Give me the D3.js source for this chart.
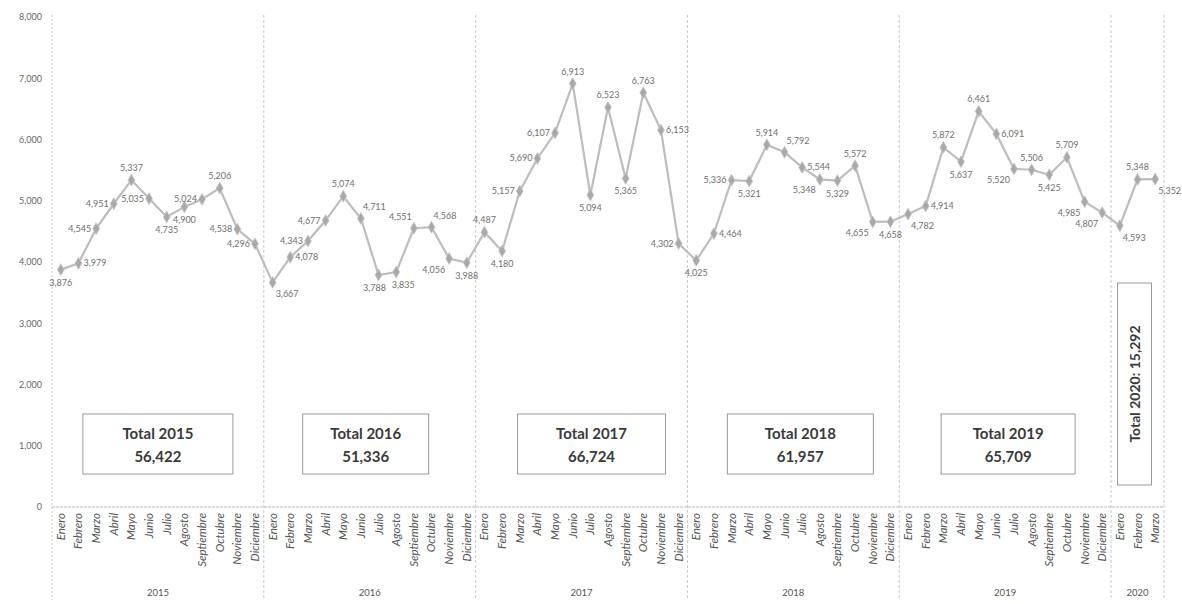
<!DOCTYPE html>
<html><head><meta charset="utf-8">
<script src="https://cdn.jsdelivr.net/npm/d3@7"></script>
<style>
html,body{margin:0;padding:0;background:#fff;}
svg{display:block;font-family:Lato,"Open Sans",sans-serif;}
</style></head>
<body>
<svg id="chart" width="1182" height="604"></svg>
<script>
const years = ["2015","2016","2017","2018","2019","2020"];
const months = ["Enero","Febrero","Marzo","Abril","Mayo","Junio","Julio","Agosto","Septiembre","Octubre","Noviembre","Diciembre"];
const v2015 = [3876,3979,4545,4951,5337,5035,4735,4900,5024,5206,4538,4296];
const v2016 = [3667,4078,4343,4677,5074,4711,3788,3835,4551,4568,4056,3988];
const v2017 = [4487,4180,5157,5690,6107,6913,5094,6523,5365,6763,6153,4302];
const v2018 = [4025,4464,5336,5321,5914,5792,5544,5348,5329,5572,4655,4658];
const v2019 = [4782,4914,5872,5637,6461,6091,5520,5506,5425,5709,4985,4807];
const v2020 = [4593,5348,5352];
const totals = ["56,422","51,336","66,724","61,957","65,709","15,292"];
const yTicks = [0,1000,2000,3000,4000,5000,6000,7000,8000];
// label placement codes (style only): a=above, b=below, l=left, r=right, bl/br below-left/right
const labelPos = [
  "b","r","l","l","a","l","b","b","l","a","l","l",
  "br","r","l","l","a","ar","b-","b+","al","ar","bl","b",
  "a","b","l","l","l","a","b","a","b","a","r","l",
  "b","r","l","b","a","ar","r","bl","b","a","bl","b",
  "br","r","a","b","a","r","bl","a","b","a","bl","bl",
  "br","a","br"
];

(function(){
const series = [v2015,v2016,v2017,v2018,v2019,v2020];
const data = [];
series.forEach((arr,yi)=>arr.forEach((v,mi)=>data.push({year:years[yi],month:months[mi],value:v,key:years[yi]+"-"+mi})));

const svg = d3.select("#chart");
const pL = 52, pR = 1164, pT = 17, pB = 507;
const x = d3.scaleBand().domain(data.map(d=>d.key)).range([pL,pR]).padding(0);
const y = d3.scaleLinear().domain([0,8000]).range([pB,pT]);
const cx = d => x(d.key) + x.bandwidth()/2;

// y axis labels
const yAxis = d3.axisLeft(y).tickValues(yTicks).tickFormat(d3.format(",")).tickSize(0).tickPadding(10);
const ya = svg.append("g").attr("transform",`translate(${pL},0)`).call(yAxis);
ya.select(".domain").remove();
ya.selectAll("text").attr("fill","#666").style("font-size","9px").style("font-family","Lato,sans-serif");

// left axis dotted line
svg.append("line").attr("x1",pL).attr("x2",pL).attr("y1",pT-2).attr("y2",600)
  .attr("stroke","#c8c8c8").attr("stroke-width",1).attr("stroke-dasharray","2,2");

const yearBounds = years.map(yr=>{
  const ks = data.filter(d=>d.year===yr).map(d=>d.key);
  return {year:yr, x0:x(ks[0]), x1:x(ks[ks.length-1])+x.bandwidth()};
});
yearBounds.forEach(b=>{
  svg.append("line").attr("x1",b.x1).attr("x2",b.x1).attr("y1",pT-2).attr("y2",600)
    .attr("stroke","#c8c8c8").attr("stroke-width",1).attr("stroke-dasharray","3,2");
});

// x axis bottom line
svg.append("line").attr("x1",pL).attr("x2",pR).attr("y1",pB).attr("y2",pB)
  .attr("stroke","#bbb").attr("stroke-width",1).attr("stroke-dasharray","3,1");

// month labels
svg.append("g").selectAll("text").data(data).join("text")
  .attr("transform",d=>`translate(${cx(d)+4},${pB+6}) rotate(-90)`)
  .attr("text-anchor","end").attr("fill","#555").style("font-size","11.5px").style("font-style","italic")
  .text(d=>d.month);

// year labels
svg.append("g").selectAll("text").data(yearBounds).join("text")
  .attr("x",d=>(d.x0+d.x1)/2).attr("y",596).attr("text-anchor","middle")
  .attr("fill","#555").style("font-size","9.5px").text(d=>d.year);

// line
const line = d3.line().x(cx).y(d=>y(d.value));
svg.append("path").datum(data).attr("d",line).attr("fill","none")
  .attr("stroke","#bdbdbd").attr("stroke-width",2.2);

// markers
svg.append("g").selectAll("path").data(data).join("path")
  .attr("d",d3.symbol().type(d3.symbolDiamond).size(40))
  .attr("transform",d=>`translate(${cx(d)},${y(d.value)})`)
  .attr("fill","#a9a9a9").attr("stroke","#c4c4c4").attr("stroke-width",0.8);

// data labels
const off = {a:[0,-9,"middle"],b:[0,16,"middle"],l:[-5,3,"end"],r:[5,3,"start"],
  bl:[-4,14,"end"],br:[3,15,"start"],al:[-2,-8,"end"],ar:[2,-8,"start"],
  "b-":[-4,16,"middle"],"b+":[7,16,"middle"]};
svg.append("g").selectAll("text").data(data).join("text")
  .attr("x",(d,i)=>cx(d)+off[labelPos[i]][0])
  .attr("y",(d,i)=>y(d.value)+off[labelPos[i]][1])
  .attr("text-anchor",(d,i)=>off[labelPos[i]][2])
  .attr("fill","#6f6f6f").style("font-size","9px")
  .text(d=>d3.format(",")(d.value));

// total boxes
const boxW = [150,126,148,146,134];
yearBounds.slice(0,5).forEach((b,i)=>{
  const c = (b.x0+b.x1)/2 + [0,-4,10,7,3][i];
  const g = svg.append("g");
  g.append("rect").attr("x",c-boxW[i]/2).attr("y",414).attr("width",boxW[i]).attr("height",60)
    .attr("fill","#fff").attr("stroke","#9a9a9a").attr("stroke-width",1);
  g.append("text").attr("x",c).attr("y",439).attr("text-anchor","middle")
    .attr("fill","#3a3a3a").style("font-size","15px").style("font-weight","bold").text("Total "+b.year);
  g.append("text").attr("x",c).attr("y",462).attr("text-anchor","middle")
    .attr("fill","#3a3a3a").style("font-size","15px").style("font-weight","bold").text(totals[i]);
});
// 2020 rotated box
{
  const b = yearBounds[5];
  const c = (b.x0+b.x1)/2 - 3;
  const g = svg.append("g");
  g.append("rect").attr("x",c-17).attr("y",283).attr("width",34).attr("height",202)
    .attr("fill","#fff").attr("stroke","#9a9a9a").attr("stroke-width",1);
  g.append("text").attr("transform",`translate(${c+5},384) rotate(-90)`).attr("text-anchor","middle")
    .attr("fill","#3a3a3a").style("font-size","14px").style("font-weight","bold")
    .text("Total "+b.year+": "+totals[5]);
}
})();
</script>
</body></html>
